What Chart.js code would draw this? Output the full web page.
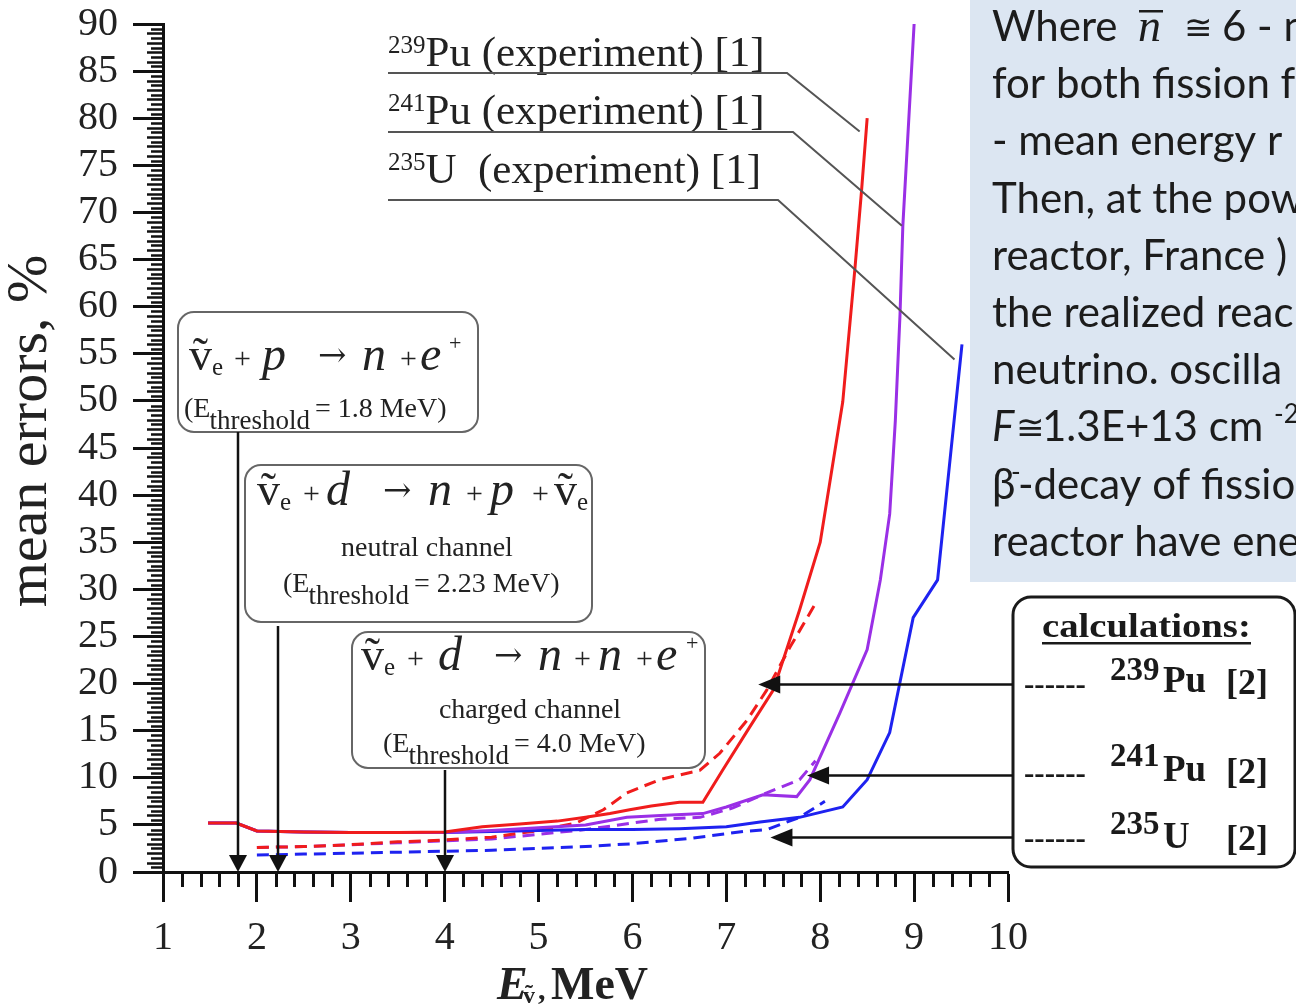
<!DOCTYPE html>
<html>
<head>
<meta charset="utf-8">
<title>Mean errors of reactor antineutrino spectra</title>
<script src="https://cdn.jsdelivr.net/npm/chart.js@4/dist/chart.umd.min.js"></script>
<style>
  html, body { margin: 0; padding: 0; background: #fff; overflow: hidden; }
  canvas { display: block; }
</style>
</head>
<body>
<canvas id="c" width="1296" height="1005"></canvas>
<script>
// ---- axis ticks ----
const energyTicks = [1, 2, 3, 4, 5, 6, 7, 8, 9, 10];
const energyTickLabels = ['1', '2', '3', '4', '5', '6', '7', '8', '9', '10'];
const errorTicks = [0, 5, 10, 15, 20, 25, 30, 35, 40, 45, 50, 55, 60, 65, 70, 75, 80, 85, 90];
const errorTickLabels = ['0', '5', '10', '15', '20', '25', '30', '35', '40', '45', '50', '55', '60', '65', '70', '75', '80', '85', '90'];

// ---- experiment [1]: antineutrino energy (MeV) and mean error (%) ----
const exp239E   = [1.48, 1.78, 2.0, 2.5, 3.0, 3.5, 4.0, 4.4, 4.8, 5.2, 5.5, 5.76, 5.97, 6.2, 6.5, 6.75, 6.96, 7.25, 7.5, 7.78, 8.0, 8.24, 8.37, 8.44, 8.5];
const exp239Err = [5.2, 5.2, 4.35, 4.25, 4.2, 4.2, 4.25, 4.8, 5.1, 5.4, 5.8, 6.2, 6.6, 7.0, 7.4, 7.4, 10.8, 15.4, 19.3, 27.8, 35.0, 49.9, 64.1, 72.3, 80.0];

const exp241E   = [1.48, 1.78, 2.0, 2.5, 3.0, 3.5, 4.0, 4.5, 5.0, 5.5, 5.94, 6.3, 6.75, 7.0, 7.39, 7.75, 7.89, 8.21, 8.5, 8.64, 8.74, 8.8, 8.85, 8.88, 9.0];
const exp241Err = [5.2, 5.2, 4.35, 4.25, 4.2, 4.2, 4.2, 4.4, 4.7, 5.0, 5.8, 6.0, 6.2, 6.9, 8.2, 8.0, 9.8, 16.9, 23.6, 31.0, 38.0, 47.9, 59.2, 68.6, 90.0];

const exp235E   = [1.48, 1.78, 2.0, 2.5, 3.0, 3.5, 4.0, 4.5, 5.0, 5.5, 6.0, 6.5, 7.0, 7.36, 7.78, 8.24, 8.5, 8.74, 8.99, 9.25, 9.51];
const exp235Err = [5.2, 5.2, 4.35, 4.25, 4.2, 4.2, 4.2, 4.3, 4.4, 4.5, 4.5, 4.6, 4.8, 5.3, 5.8, 6.9, 9.8, 14.8, 27.0, 31.0, 56.0];

// ---- calculations [2] ----
const calc239E   = [2.0, 2.5, 3.0, 3.5, 4.0, 4.5, 5.0, 5.4, 5.69, 5.94, 6.29, 6.72, 6.93, 7.22, 7.43, 7.68, 7.95];
const calc239Err = [2.6, 2.7, 2.9, 3.2, 3.4, 3.7, 4.4, 5.2, 6.6, 8.4, 9.8, 10.8, 12.6, 16.1, 19.3, 23.9, 28.5];

const calc241E   = [2.0, 2.5, 3.0, 3.5, 4.0, 4.5, 5.0, 5.5, 6.0, 6.3, 6.72, 7.07, 7.43, 7.78, 7.95];
const calc241Err = [2.6, 2.7, 2.9, 3.1, 3.3, 3.5, 4.0, 4.5, 5.2, 5.6, 5.8, 6.8, 8.4, 9.8, 11.8];

const calc235E   = [2.0, 2.5, 3.0, 3.5, 4.0, 4.5, 5.0, 5.5, 6.0, 6.64, 7.18, 7.43, 7.78, 8.05];
const calc235Err = [1.8, 1.9, 2.0, 2.1, 2.2, 2.3, 2.5, 2.7, 3.0, 3.6, 4.3, 4.5, 5.8, 7.5];

// reaction thresholds (MeV)
const thresholds = [1.8, 2.23, 4.0];

// where the "calculations" arrows point: [energy, error]
const calcArrowTips = [[7.34, 19.9], [7.86, 10.3], [7.47, 3.7]];
// where the experiment leader lines end: [energy, error]
const expLeaderEnds = [[8.42, 78.6], [8.87, 68.6], [9.43, 54.4]];

const RED = '#f01c1c', PURPLE = '#9a2fe6', BLUE = '#1e22f0';
const SERIF = '"Liberation Serif", "Times New Roman", serif';
const SANS = 'Lato, "Open Sans", sans-serif';

function pts(xs, ys) { return xs.map((x, i) => ({ x, y: ys[i] })); }
function series(label, xs, ys, color, dashed, order) {
  return {
    label, data: pts(xs, ys), showLine: true, borderColor: color, backgroundColor: color,
    borderWidth: 3, pointRadius: 0, tension: 0, fill: false,
    borderDash: dashed ? [12, 7] : [], order
  };
}
function f(size, style, weight, family) {
  return `${style || 'normal'} ${weight || 'normal'} ${size}px ${family || SERIF}`;
}
// draw a sequence of text pieces: [text, font, x, y]
function pieces(ctx, list) {
  for (const [t, fo, x, y] of list) { ctx.font = fo; ctx.fillText(t, x, y); }
}
// antineutrino symbol: v with tilde, subscript e
function antinu(ctx, x, y, size) {
  ctx.font = f(size);
  ctx.fillText('v', x, y);
  const w = ctx.measureText('v').width;
  ctx.textAlign = 'center';
  ctx.fillText('\u02DC', x + w / 2, y - size * 0.02);
  ctx.textAlign = 'left';
  ctx.font = f(Math.round(size * 0.55));
  ctx.fillText('e', x + w, y + size * 0.1);
}
function roundBox(ctx, x, y, w, h, r, stroke, lw) {
  ctx.beginPath();
  ctx.roundRect(x, y, w, h, r);
  ctx.fillStyle = '#fff';
  ctx.fill();
  ctx.strokeStyle = stroke;
  ctx.lineWidth = lw;
  ctx.stroke();
}
function arrowDown(ctx, x, y0, y1) {
  ctx.beginPath(); ctx.moveTo(x, y0); ctx.lineTo(x, y1 - 14); ctx.stroke();
  ctx.beginPath(); ctx.moveTo(x - 9, y1 - 17); ctx.lineTo(x + 9, y1 - 17); ctx.lineTo(x, y1); ctx.closePath(); ctx.fill();
}
function arrowLeft(ctx, x0, y, x1) {
  ctx.beginPath(); ctx.moveTo(x0, y); ctx.lineTo(x1 + 18, y); ctx.stroke();
  ctx.beginPath(); ctx.moveTo(x1 + 22, y - 9); ctx.lineTo(x1 + 22, y + 9); ctx.lineTo(x1, y); ctx.closePath(); ctx.fill();
}
// "(E threshold = ... MeV)" line
function thresholdLine(ctx, x, y, value) {
  const sm = f(28);
  ctx.font = sm;
  ctx.fillText('(E', x, y);
  const w1 = ctx.measureText('(E').width;
  ctx.font = f(27);
  ctx.fillText('threshold', x + w1 - 1, y + 12);
  const w2 = ctx.measureText('threshold').width;
  ctx.font = sm;
  ctx.fillText('= ' + value + ' MeV)', x + w1 + w2 + 4, y);
}

const decorations = {
  id: 'decorations',
  beforeDraw(chart) {
    const ctx = chart.ctx;
    ctx.save();
    ctx.fillStyle = '#fff';
    ctx.fillRect(0, 0, chart.width, chart.height);

    // explanatory note panel on the right
    ctx.fillStyle = '#dce6f2';
    ctx.fillRect(970, 0, 330, 582);
    ctx.fillStyle = '#1c1c1c';
    ctx.textBaseline = 'alphabetic';
    const L = 992, step = 57.2, b0 = 41;
    const S = f(42, '', '', SANS);
    // row 1
    pieces(ctx, [['Where', S, L, b0]]);
    ctx.font = f(46, 'italic');
    ctx.fillText('n', 1138, b0);
    ctx.fillRect(1139, b0 - 31, 24, 2.5);
    pieces(ctx, [['\u2245', f(34, '', '', '"DejaVu Sans", sans-serif'), 1184, b0 - 2], ['6 - n', S, 1222, b0]]);
    const rows = ['for both fission f', '- mean energy r', 'Then, at the pow', 'reactor, France )',
                  'the realized reac', 'neutrino. oscilla'];
    rows.forEach((t, i) => pieces(ctx, [[t, S, L, b0 + step * (i + 1)]]));
    // row 8
    const b8 = b0 + step * 7;
    pieces(ctx, [['F', f(42, 'italic', '', SANS), L, b8],
                 ['\u2245', f(34, '', '', '"DejaVu Sans", sans-serif'), 1016, b8 - 2],
                 ['1.3E+13 cm', S, 1042, b8],
                 ['-2', f(26, '', '', SANS), 1274, b8 - 18]]);
    // row 9
    const b9 = b0 + step * 8;
    pieces(ctx, [['\u03B2', S, L, b9], ['-', f(26, '', '', SANS), 1011, b9 - 18], ['-decay of fissio', S, 1018, b9]]);
    // row 10
    pieces(ctx, [['reactor have ene', S, L, b0 + step * 9]]);
    ctx.restore();
  },
  afterDraw(chart) {
    const ctx = chart.ctx;
    const xs = chart.scales.x, ys = chart.scales.y;
    const left = chart.chartArea.left, bottom = chart.chartArea.bottom;
    ctx.save();
    ctx.strokeStyle = '#111';
    ctx.fillStyle = '#111';
    ctx.lineCap = 'butt';

    // minor ticks
    ctx.lineWidth = 3;
    for (let k = 5; k <= 50; k++) {
      if (k % 5 === 0) continue;
      const px = Math.round(xs.getPixelForValue(k / 5)) + 0.5;
      ctx.beginPath(); ctx.moveTo(px, bottom); ctx.lineTo(px, bottom + 15); ctx.stroke();
    }
    ctx.lineWidth = 2.5;
    for (let k = 1; k < 180; k++) {
      if (k % 10 === 0) continue;
      const py = Math.round(ys.getPixelForValue(k / 2)) + 0.5;
      const len = k % 2 === 0 ? 16 : 12;
      ctx.beginPath(); ctx.moveTo(left - len, py); ctx.lineTo(left, py); ctx.stroke();
    }

    // experiment labels with leader lines
    ctx.fillStyle = '#222';
    ctx.textBaseline = 'alphabetic';
    const labels = [
      ['239', 'Pu', ' (experiment) [1]', 388, 66, 73, 787],
      ['241', 'Pu', ' (experiment) [1]', 388, 124, 132, 793],
      ['235', 'U', '  (experiment) [1]', 388, 183, 200, 778]
    ];
    labels.forEach(([iso, el, rest, x, base, ly, lx], i) => {
      ctx.font = f(25);
      ctx.fillText(iso, x, base - 13);
      const w = ctx.measureText(iso).width;
      ctx.font = f(43);
      ctx.fillText(el + rest, x + w, base);
      const [ex, ey] = expLeaderEnds[i];
      ctx.strokeStyle = '#555';
      ctx.lineWidth = 2;
      ctx.beginPath();
      ctx.moveTo(x, ly); ctx.lineTo(lx, ly);
      ctx.lineTo(xs.getPixelForValue(ex), ys.getPixelForValue(ey));
      ctx.stroke();
    });

    // reaction boxes
    roundBox(ctx, 178, 312, 300, 120, 16, '#666', 2);
    roundBox(ctx, 245, 465, 347, 157, 16, '#666', 2);
    roundBox(ctx, 352, 632, 353, 136, 16, '#666', 2);
    ctx.fillStyle = '#222';
    const big = f(48, 'italic'), op = f(30), arr = f(34, '', '', '"DejaVu Serif", serif'), sm = f(28);
    // box 1
    antinu(ctx, 189, 370, 46);
    pieces(ctx, [['+', op, 234, 368], ['p', big, 262, 370], ['\u2192', arr, 318, 366],
                 ['n', big, 362, 370], ['+', op, 400, 368], ['e', big, 420, 370], ['+', f(22), 449, 350]]);
    thresholdLine(ctx, 184, 417, '1.8');
    // box 2
    antinu(ctx, 257, 505, 46);
    pieces(ctx, [['+', op, 303, 503], ['d', big, 326, 505], ['\u2192', arr, 383, 501],
                 ['n', big, 428, 505], ['+', op, 466, 503], ['p', big, 490, 505], ['+', op, 532, 503]]);
    antinu(ctx, 554, 505, 46);
    ctx.textAlign = 'center';
    pieces(ctx, [['neutral channel', sm, 427, 556]]);
    ctx.textAlign = 'left';
    thresholdLine(ctx, 283, 592, '2.23');
    // box 3
    antinu(ctx, 361, 670, 46);
    pieces(ctx, [['+', op, 407, 668], ['d', big, 438, 670], ['\u2192', arr, 494, 666],
                 ['n', big, 538, 670], ['+', op, 574, 668], ['n', big, 598, 670], ['+', op, 636, 668],
                 ['e', big, 656, 670], ['+', f(22), 686, 650]]);
    ctx.textAlign = 'center';
    pieces(ctx, [['charged channel', sm, 530, 718]]);
    ctx.textAlign = 'left';
    thresholdLine(ctx, 383, 752, '4.0');

    // threshold arrows
    ctx.strokeStyle = '#111';
    ctx.fillStyle = '#111';
    ctx.lineWidth = 2.5;
    const starts = [432, 626, 770];
    thresholds.forEach((t, i) => arrowDown(ctx, Math.round(xs.getPixelForValue(t)), starts[i], bottom));

    // calculations legend box
    roundBox(ctx, 1013, 597, 282, 270, 18, '#1a1a1a', 3);
    ctx.fillStyle = '#1a1a1a';
    ctx.save();
    ctx.translate(1042, 637);
    ctx.scale(1.14, 1);
    pieces(ctx, [['calculations:', f(34, '', 'bold'), 0, 0]]);
    ctx.restore();
    ctx.fillRect(1042, 642, 209, 2.5);
    const rowsY = [686, 775, 840];
    const legend = [['239', 'Pu', 680, 692], ['241', 'Pu', 766, 781], ['235', 'U', 834, 848]];
    legend.forEach(([iso, el, yi, ye], i) => {
      pieces(ctx, [['------', f(31, '', 'bold'), 1024, rowsY[i] + 8],
                   [iso, f(33, '', 'bold'), 1110, yi],
                   [el, f(37, '', 'bold'), 1163, ye],
                   ['[2]', f(36, '', 'bold'), 1226, ye + 2]]);
    });
    // arrows from the legend box to the calculated curves
    ctx.strokeStyle = '#111';
    ctx.fillStyle = '#111';
    ctx.lineWidth = 2.5;
    calcArrowTips.forEach(([ex, ey]) => {
      const py = Math.round(ys.getPixelForValue(ey)) + 0.5;
      arrowLeft(ctx, 1013, py, xs.getPixelForValue(ex));
    });

    // axis titles
    ctx.fillStyle = '#222';
    ctx.save();
    ctx.translate(46, 431);
    ctx.rotate(-Math.PI / 2);
    ctx.textAlign = 'center';
    ctx.font = f(58);
    ctx.fillText('mean errors, %', 0, 0);
    ctx.restore();
    pieces(ctx, [['E', f(46, 'italic', 'bold'), 497, 999]]);
    ctx.font = f(24, '', 'bold');
    ctx.fillText('v', 523, 1003);
    ctx.textAlign = 'center';
    ctx.fillText('\u02DC', 523 + ctx.measureText('v').width / 2, 1001);
    ctx.textAlign = 'left';
    pieces(ctx, [[',', f(30, '', 'bold'), 538, 999], ['MeV', f(46, '', 'bold'), 551, 999]]);
    ctx.restore();
  }
};

Chart.defaults.font.family = SERIF;

new Chart(document.getElementById('c'), {
  type: 'scatter',
  data: {
    datasets: [
      series('239Pu (experiment) [1]', exp239E, exp239Err, RED, false, 1),
      series('241Pu (experiment) [1]', exp241E, exp241Err, PURPLE, false, 2),
      series('235U (experiment) [1]', exp235E, exp235Err, BLUE, false, 3),
      series('239Pu [2]', calc239E, calc239Err, RED, true, 4),
      series('241Pu [2]', calc241E, calc241Err, PURPLE, true, 5),
      series('235U [2]', calc235E, calc235Err, BLUE, true, 6)
    ]
  },
  options: {
    responsive: false,
    animation: false,
    devicePixelRatio: 1,
    layout: { padding: { top: 24, right: 288, left: 0, bottom: 0 } },
    plugins: { legend: { display: false }, tooltip: { enabled: false } },
    scales: {
      x: {
        type: 'linear', min: energyTicks[0], max: energyTicks[energyTicks.length - 1],
        afterBuildTicks: s => { s.ticks = energyTicks.map(v => ({ value: v })); },
        afterFit: s => { s.height = 133; s.paddingLeft = 0; s.paddingRight = 0; },
        ticks: {
          autoSkip: false, maxRotation: 0, padding: 12, color: '#222',
          font: { family: SERIF, size: 40 },
          callback: v => energyTickLabels[energyTicks.indexOf(v)]
        },
        grid: { drawOnChartArea: false, drawTicks: true, tickLength: 30, tickWidth: 3, tickColor: '#111' },
        border: { display: true, width: 3, color: '#111' }
      },
      y: {
        type: 'linear', min: errorTicks[0], max: errorTicks[errorTicks.length - 1],
        afterBuildTicks: s => { s.ticks = errorTicks.map(v => ({ value: v })); },
        afterFit: s => { s.width = 163; s.paddingTop = 0; s.paddingBottom = 0; },
        ticks: {
          autoSkip: false, padding: 15, color: '#222',
          font: { family: SERIF, size: 40 },
          callback: v => errorTickLabels[errorTicks.indexOf(v)]
        },
        grid: { drawOnChartArea: false, drawTicks: true, tickLength: 30, tickWidth: 3, tickColor: '#111' },
        border: { display: true, width: 3, color: '#111' }
      }
    }
  },
  plugins: [decorations]
});
</script>
</body>
</html>
